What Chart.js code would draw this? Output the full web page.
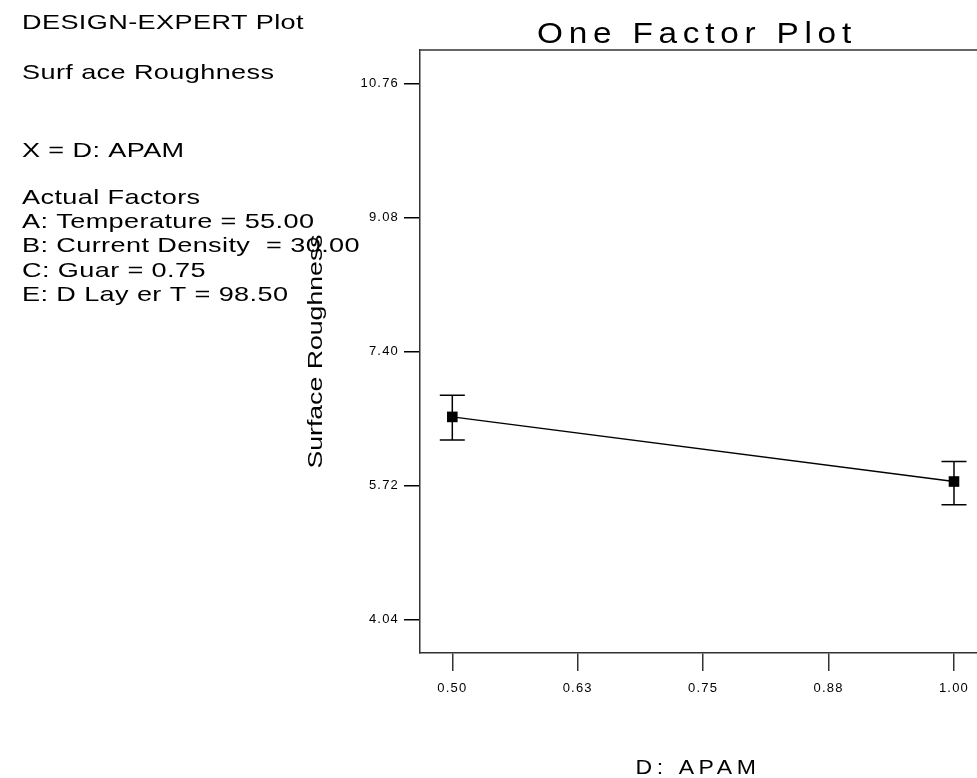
<!DOCTYPE html>
<html>
<head>
<meta charset="utf-8">
<script src="https://cdn.jsdelivr.net/npm/chart.js@4.4.1/dist/chart.umd.min.js"></script>
<style>
  html, body { margin: 0; padding: 0; background: #ffffff; }
  #wrap { position: relative; width: 977px; height: 778px; overflow: hidden; }
  #chart { position: absolute; left: 0; top: 0; }
</style>
</head>
<body>
<div id="wrap"><canvas id="chart" width="1000" height="778"></canvas></div>
<script>
// Factor levels (D: APAM) and predicted Surface Roughness with interval bounds
const apamLevels = [0.50, 1.00];
const roughness = [6.58, 5.77];
const roughnessLow = [6.29, 5.48];
const roughnessHigh = [6.85, 6.02];

// Axis ticks
const xTickValues = [0.50, 0.625, 0.75, 0.875, 1.00];
const xTickLabels = ['0.50', '0.63', '0.75', '0.88', '1.00'];
const yTickValues = [4.04, 5.72, 7.40, 9.08, 10.76];
const yTickLabels = ['4.04', '5.72', '7.40', '9.08', '10.76'];

// Side notes (text, baseline)
const noteLines = [
  ['DESIGN-EXPERT Plot', 29],
  ['Surf ace Roughness', 79],
  ['X = D: APAM', 157],
  ['Actual Factors', 204],
  ['A: Temperature = 55.00', 228],
  ['B: Current Density  = 30.00', 252],
  ['C: Guar = 0.75', 277],
  ['E: D Lay er T = 98.50', 301]
];

const FONT = '"Liberation Sans", Arial, sans-serif';

const points = apamLevels.map((x, i) => ({ x: x, y: roughness[i] }));

// draws text widened along its own direction
function wideText(ctx, text, x, y, sx, align) {
  ctx.save();
  ctx.translate(x, y);
  ctx.scale(sx, 1);
  ctx.textAlign = align;
  ctx.fillText(text, 0, 0);
  ctx.restore();
}

const decorPlugin = {
  id: 'decor',
  beforeDraw(chart) {
    chart.ctx.letterSpacing = '1.2px';
  },
  afterDatasetsDraw(chart) {
    const ctx = chart.ctx;
    const xs = chart.scales.x, ys = chart.scales.y;
    ctx.save();
    ctx.strokeStyle = '#000';
    ctx.lineWidth = 1.5;
    apamLevels.forEach((v, i) => {
      const px = xs.getPixelForValue(v);
      const top = ys.getPixelForValue(roughnessHigh[i]);
      const bot = ys.getPixelForValue(roughnessLow[i]);
      ctx.beginPath();
      ctx.moveTo(px, top); ctx.lineTo(px, bot);
      ctx.moveTo(px - 12.5, top); ctx.lineTo(px + 12.5, top);
      ctx.moveTo(px - 12.5, bot); ctx.lineTo(px + 12.5, bot);
      ctx.stroke();
    });
    ctx.restore();
  },
  afterDraw(chart) {
    const ctx = chart.ctx;
    const a = chart.chartArea;
    ctx.save();
    // top frame line
    ctx.strokeStyle = '#333';
    ctx.lineWidth = 1.5;
    ctx.beginPath();
    ctx.moveTo(a.left, a.top);
    ctx.lineTo(a.right, a.top);
    ctx.stroke();

    ctx.fillStyle = '#000';
    ctx.textBaseline = 'alphabetic';

    // chart title
    ctx.letterSpacing = '5px';
    ctx.font = '29px ' + FONT;
    wideText(ctx, 'One Factor Plot', 697, 43, 1.15, 'center');

    // x axis title
    ctx.letterSpacing = '4px';
    ctx.font = '20px ' + FONT;
    wideText(ctx, 'D: APAM', 698, 774, 1.15, 'center');

    // y axis title
    ctx.save();
    ctx.letterSpacing = '0px';
    ctx.translate(322, (a.top + a.bottom) / 2);
    ctx.rotate(-Math.PI / 2);
    ctx.font = '21px ' + FONT;
    wideText(ctx, 'Surface Roughness', 0, 0, 1.27, 'center');
    ctx.restore();

    // side notes
    ctx.letterSpacing = '0.3px';
    ctx.font = '21px ' + FONT;
    noteLines.forEach(([t, y]) => wideText(ctx, t, 22, y, 1.29, 'left'));
    ctx.restore();
  }
};

new Chart(document.getElementById('chart'), {
  type: 'scatter',
  data: {
    datasets: [{
      data: points,
      showLine: true,
      borderColor: '#000',
      borderWidth: 1.3,
      backgroundColor: '#000',
      pointStyle: 'rect',
      pointRadius: 7.5,
      pointHoverRadius: 7.5,
      pointBorderWidth: 0
    }]
  },
  options: {
    responsive: false,
    animation: false,
    events: [],
    layout: { padding: { left: 0, top: 50, right: 14, bottom: 0 } },
    plugins: { legend: { display: false }, tooltip: { enabled: false }, title: { display: false } },
    scales: {
      x: {
        type: 'linear',
        min: 0.4678,
        max: 1.0319,
        afterFit(s) { s.height = 125; },
        afterBuildTicks(s) { s.ticks = xTickValues.map(v => ({ value: v })); },
        border: { display: true, color: '#333', width: 1.5 },
        grid: { drawOnChartArea: false, drawTicks: true, tickLength: 18, tickColor: '#333', lineWidth: 1.5 },
        ticks: {
          autoSkip: false, maxRotation: 0, padding: 10, color: '#000',
          font: { family: FONT, size: 13 },
          callback(v) { const i = xTickValues.indexOf(v); return i >= 0 ? xTickLabels[i] : ''; }
        }
      },
      y: {
        type: 'linear',
        min: 3.62,
        max: 11.18,
        afterFit(s) { s.width = 420; },
        afterBuildTicks(s) { s.ticks = yTickValues.map(v => ({ value: v })); },
        border: { display: true, color: '#333', width: 1.5 },
        grid: { drawOnChartArea: false, drawTicks: true, tickLength: 16, tickColor: '#000', lineWidth: 1.5 },
        ticks: {
          autoSkip: false, padding: 5, color: '#000',
          font: { family: FONT, size: 13 },
          callback(v) { const i = yTickValues.indexOf(v); return i >= 0 ? yTickLabels[i] : ''; }
        }
      }
    }
  },
  plugins: [decorPlugin]
});
</script>
</body>
</html>
